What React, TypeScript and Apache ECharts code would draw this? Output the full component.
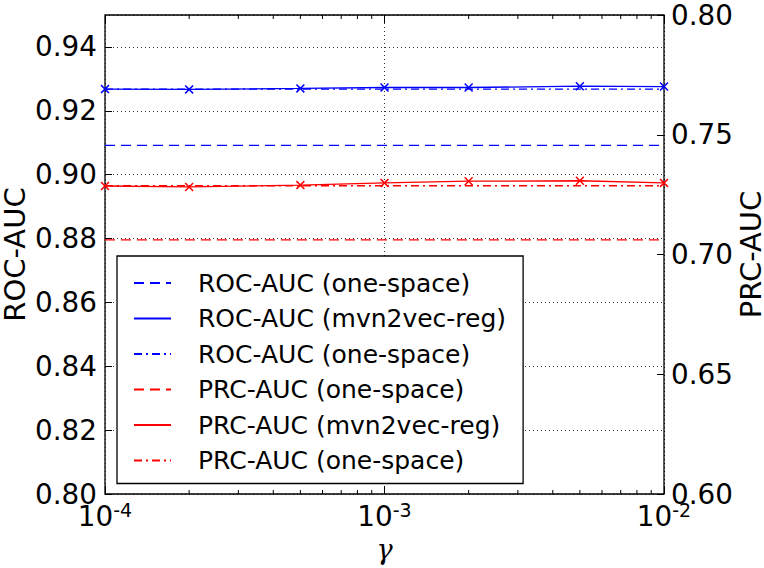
import React, { useEffect, useRef } from "react";
import * as echarts from "echarts";

const gammas = [1e-4, 2e-4, 5e-4, 1e-3, 2e-3, 5e-3, 1e-2];
const rocOneSpaceDashed = [0.9092, 0.9092, 0.9092, 0.9092, 0.9092, 0.9092, 0.9092];
const rocMvn2vecReg = [0.9268, 0.9267, 0.927, 0.9273, 0.9273, 0.9277, 0.9276];
const rocOneSpaceDashDot = [0.9268, 0.9268, 0.9268, 0.9268, 0.9268, 0.9268, 0.9268];
const prcOneSpaceDashed = [0.7061, 0.7061, 0.7061, 0.7061, 0.7061, 0.7061, 0.7061];
const prcMvn2vecReg = [0.7286, 0.7282, 0.729, 0.7299, 0.7306, 0.7308, 0.7299];
const prcOneSpaceDashDot = [0.7287, 0.7287, 0.7287, 0.7287, 0.7287, 0.7287, 0.7287];
const minorTicks = [2e-4, 3e-4, 4e-4, 5e-4, 6e-4, 7e-4, 8e-4, 9e-4, 2e-3, 3e-3, 4e-3, 5e-3, 6e-3, 7e-3, 8e-3, 9e-3];
const xMin = 1e-4;
const xMax = 1e-2;
const rocMin = 0.8;
const rocMax = 0.95;
const rocInterval = 0.02;
const prcMin = 0.6;
const prcMax = 0.8;
const prcInterval = 0.05;

const FONT = "DejaVu Sans";
const BLUE = "#0000ff";
const RED = "#ff0000";
const DASH = [10, 6];
const DASHDOT = [8, 4, 2, 4];
const XMARK = "path://M0,12L12,0L50,38L88,0L100,12L62,50L100,88L88,100L50,62L12,100L0,88L38,50Z";

const pair = (vals: number[]) => gammas.map((g, i) => [g, vals[i]]);

export default function App() {
  const ref = useRef<HTMLDivElement>(null);
  useEffect(() => {
    document.body.style.margin = "0";
    const chart = echarts.init(ref.current!, null, { renderer: "svg" });
    const lineSeries = (
      name: string,
      vals: number[],
      color: string,
      type: any,
      yAxisIndex: number,
      marker: boolean
    ) => ({
      type: "line",
      name,
      data: pair(vals),
      xAxisIndex: 0,
      yAxisIndex,
      showSymbol: marker,
      symbol: marker ? XMARK : "none",
      symbolSize: 9,
      itemStyle: { color },
      lineStyle: { color, width: 1.3, type },
      z: marker ? 4 : 3,
      silent: true,
    });
    chart.setOption({
      animation: false,
      grid: {
        left: 105,
        right: 100,
        top: 15,
        bottom: 74,
        containLabel: false,
        outerBoundsMode: "none",
        show: true,
        borderColor: "#000",
        borderWidth: 1.3,
        backgroundColor: "transparent",
      },
      xAxis: [
        {
          type: "log",
          logBase: 10,
          min: xMin,
          max: xMax,
          position: "bottom",
          name: "γ",
          nameLocation: "middle",
          nameGap: 42,
          nameMoveOverlap: false,
          nameTextStyle: { fontFamily: "DejaVu Serif", fontStyle: "italic", fontSize: 27, color: "#000" },
          axisLine: { show: false },
          axisTick: { show: true, inside: true, length: 8, lineStyle: { color: "#000", width: 1 } },
          splitLine: { show: true, lineStyle: { color: "#000", type: [1, 3], width: 0.8 } },
          axisLabel: {
            margin: 6,
            hideOverlap: false,
            formatter: (v: number) => `{b|10}{s|${Math.round(Math.log10(v))}}`,
            rich: {
              b: { fontFamily: FONT, fontSize: 27.8, lineHeight: 30, color: "#000", verticalAlign: "bottom" },
              s: { fontFamily: FONT, fontSize: 19, lineHeight: 14, color: "#000", verticalAlign: "top" },
            },
          },
        },
        {
          type: "log",
          logBase: 10,
          min: xMin,
          max: xMax,
          position: "top",
          axisLine: { show: false },
          axisTick: { show: true, inside: true, length: 8, lineStyle: { color: "#000", width: 1 } },
          splitLine: { show: false },
          axisLabel: { show: false },
        },
      ],
      yAxis: [
        {
          type: "value",
          min: rocMin,
          max: rocMax,
          interval: rocInterval,
          position: "left",
          name: "ROC-AUC",
          nameLocation: "middle",
          nameGap: 76,
          nameMoveOverlap: false,
          nameTextStyle: { fontFamily: FONT, fontSize: 29, color: "#000" },
          axisLine: { show: false },
          axisTick: { show: true, inside: true, length: 7, lineStyle: { color: "#000", width: 1 } },
          splitLine: { show: true, lineStyle: { color: "#000", type: [1, 3], width: 0.8 } },
          axisLabel: {
            showMaxLabel: false,
            margin: 8,
            fontFamily: FONT,
            fontSize: 27.8,
            color: "#000",
            formatter: (v: number) => v.toFixed(2),
          },
        },
        {
          type: "value",
          min: prcMin,
          max: prcMax,
          interval: prcInterval,
          position: "right",
          name: "PRC-AUC",
          nameLocation: "middle",
          nameGap: 72,
          nameRotate: 90,
          nameMoveOverlap: false,
          nameTextStyle: { fontFamily: FONT, fontSize: 29, color: "#000" },
          axisLine: { show: false },
          axisTick: { show: true, inside: true, length: 7, lineStyle: { color: "#000", width: 1 } },
          splitLine: { show: false },
          axisLabel: {
            margin: 7,
            fontFamily: FONT,
            fontSize: 27.8,
            color: "#000",
            formatter: (v: number) => v.toFixed(2),
          },
        },
      ],
      legend: {
        orient: "vertical",
        left: 117,
        top: 256,
        padding: [12, 17, 8, 16],
        itemWidth: 37,
        itemHeight: 14,
        itemGap: 5.5,
        selectedMode: false,
        backgroundColor: "#fff",
        borderColor: "#000",
        borderWidth: 1.3,
        borderRadius: 0,
        itemStyle: { opacity: 0 },
        textStyle: { fontFamily: FONT, fontSize: 25, lineHeight: 30, color: "#000", padding: [0, 0, 0, 22] },
        data: [
          "ROC-AUC (one-space)",
          "ROC-AUC (mvn2vec-reg)",
          "ROC-AUC (one-space) ",
          "PRC-AUC (one-space)",
          "PRC-AUC (mvn2vec-reg)",
          "PRC-AUC (one-space) ",
        ],
      },
      series: [
        lineSeries("ROC-AUC (one-space)", rocOneSpaceDashed, BLUE, DASH, 0, false),
        lineSeries("ROC-AUC (mvn2vec-reg)", rocMvn2vecReg, BLUE, "solid", 0, true),
        lineSeries("ROC-AUC (one-space) ", rocOneSpaceDashDot, BLUE, DASHDOT, 0, false),
        lineSeries("PRC-AUC (one-space)", prcOneSpaceDashed, RED, DASH, 1, false),
        lineSeries("PRC-AUC (mvn2vec-reg)", prcMvn2vecReg, RED, "solid", 1, true),
        lineSeries("PRC-AUC (one-space) ", prcOneSpaceDashDot, RED, DASHDOT, 1, false),
        {
          type: "custom",
          name: "minor-ticks",
          xAxisIndex: 0,
          yAxisIndex: 0,
          silent: true,
          clip: false,
          z: 5,
          data: minorTicks.map((v) => [v, rocMin]),
          encode: { x: 0, y: 1 },
          renderItem: (params: any, api: any) => {
            const v = api.value(0);
            const b = api.coord([v, rocMin]);
            const t = api.coord([v, rocMax]);
            const st = { stroke: "#000", lineWidth: 1 };
            return {
              type: "group",
              children: [
                { type: "line", shape: { x1: b[0], y1: b[1], x2: b[0], y2: b[1] - 4 }, style: st },
                { type: "line", shape: { x1: t[0], y1: t[1], x2: t[0], y2: t[1] + 4 }, style: st },
              ],
            };
          },
        },
      ],
    });
    return () => chart.dispose();
  }, []);
  return (
    <div
      ref={ref}
      style={{ position: "absolute", left: 0, top: 0, width: 764, height: 568, background: "#fff" }}
    />
  );
}
